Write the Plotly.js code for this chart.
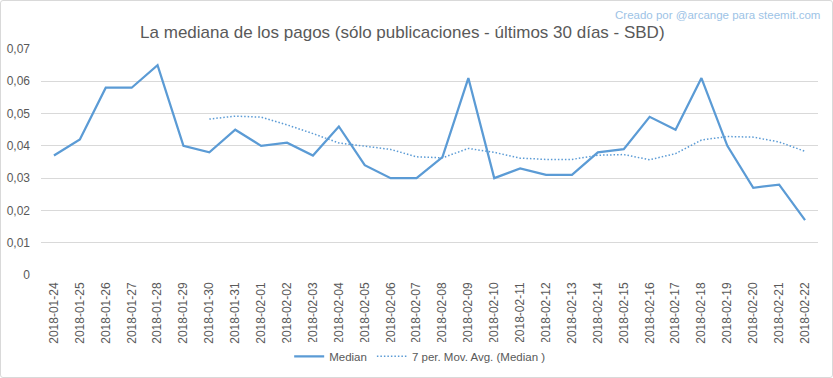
<!DOCTYPE html>
<html>
<head>
<meta charset="utf-8">
<script src="https://cdn.plot.ly/plotly-3.0.1.min.js"></script>
<style>
html,body{margin:0;padding:0;background:#fff;}
#wrap{position:relative;width:833px;height:378px;}
#chart{width:833px;height:378px;}
#frame{position:absolute;left:0;top:0;width:833px;height:378px;box-sizing:border-box;border:1px solid #d9d9d9;border-radius:3px;pointer-events:none;}
</style>
</head>
<body>
<div id="wrap"><div id="chart"></div><div id="frame"></div></div>
<script>
const dates = ["2018-01-24","2018-01-25","2018-01-26","2018-01-27","2018-01-28","2018-01-29","2018-01-30","2018-01-31","2018-02-01","2018-02-02","2018-02-03","2018-02-04","2018-02-05","2018-02-06","2018-02-07","2018-02-08","2018-02-09","2018-02-10","2018-02-11","2018-02-12","2018-02-13","2018-02-14","2018-02-15","2018-02-16","2018-02-17","2018-02-18","2018-02-19","2018-02-20","2018-02-21","2018-02-22"];
const median = [0.037,0.042,0.058,0.058,0.065,0.040,0.038,0.045,0.040,0.041,0.037,0.046,0.034,0.030,0.030,0.0365,0.061,0.030,0.033,0.031,0.031,0.038,0.039,0.049,0.045,0.061,0.040,0.027,0.028,0.017];
const movAvg = [null,null,null,null,null,null,0.0483,0.0492,0.0489,0.0465,0.0438,0.0409,0.0399,0.0389,0.0366,0.0363,0.0392,0.0380,0.0362,0.0358,0.0358,0.0371,0.0373,0.0357,0.0376,0.0418,0.0429,0.0427,0.0412,0.0383];
const yTickVals = [0,0.01,0.02,0.03,0.04,0.05,0.06,0.07];
const yTickText = ["0","0,01","0,02","0,03","0,04","0,05","0,06","0,07"];
const titleText = "La mediana de los pagos (sólo publicaciones - últimos 30 días - SBD)";
const creditText = "Creado por @arcange para steemit.com";
const seriesNames = ["Median","7 per. Mov. Avg. (Median )"];

const FONT = "'Liberation Sans', Arial, sans-serif";
const COLOR = "#5b9bd5";

const traces = [
  {x: dates, y: median, name: seriesNames[0], type: "scatter", mode: "lines",
   line: {color: COLOR, width: 2.25}},
  {x: dates, y: movAvg, name: seriesNames[1], type: "scatter", mode: "lines",
   line: {color: COLOR, width: 1.5, dash: "1.5px,2px"}}
];

const layout = {
  width: 833, height: 378,
  margin: {l: 41, r: 15, t: 49, b: 103, autoexpand: false},
  paper_bgcolor: "#ffffff", plot_bgcolor: "#ffffff",
  font: {family: FONT, color: "#595959", size: 12},
  title: {text: titleText, font: {family: FONT, size: 17, color: "#595959"},
          xref: "container", x: 0.483, xanchor: "center",
          yref: "container", y: 0.915, yanchor: "middle"},
  showlegend: true,
  legend: {orientation: "h", x: 0.488, xanchor: "center", y: -0.36, yanchor: "middle",
           font: {family: FONT, size: 11.5, color: "#595959"}, tracegroupgap: 0},
  xaxis: {type: "category", range: [-0.5, 29.5], tickangle: -90, showgrid: false,
          showline: false, zeroline: false, ticks: "", ticklabelstandoff: 4, automargin: false,
          tickfont: {family: FONT, size: 12, color: "#595959"}, fixedrange: true},
  yaxis: {range: [0, 0.07], tickvals: yTickVals, ticktext: yTickText, showgrid: true, automargin: false,
          gridcolor: "#d9d9d9", gridwidth: 1, zeroline: false, showline: false, ticks: "",
          ticklabelstandoff: 10, tickfont: {family: FONT, size: 12, color: "#595959"}, fixedrange: true},
  annotations: [
    {text: creditText, xref: "paper", yref: "paper", x: 1.005, y: 1.15,
     xanchor: "right", yanchor: "middle", showarrow: false,
     font: {family: FONT, size: 11.5, color: "#9dc3e6"}}
  ]
};

Plotly.newPlot("chart", traces, layout, {displayModeBar: false, staticPlot: true});
</script>
</body>
</html>
